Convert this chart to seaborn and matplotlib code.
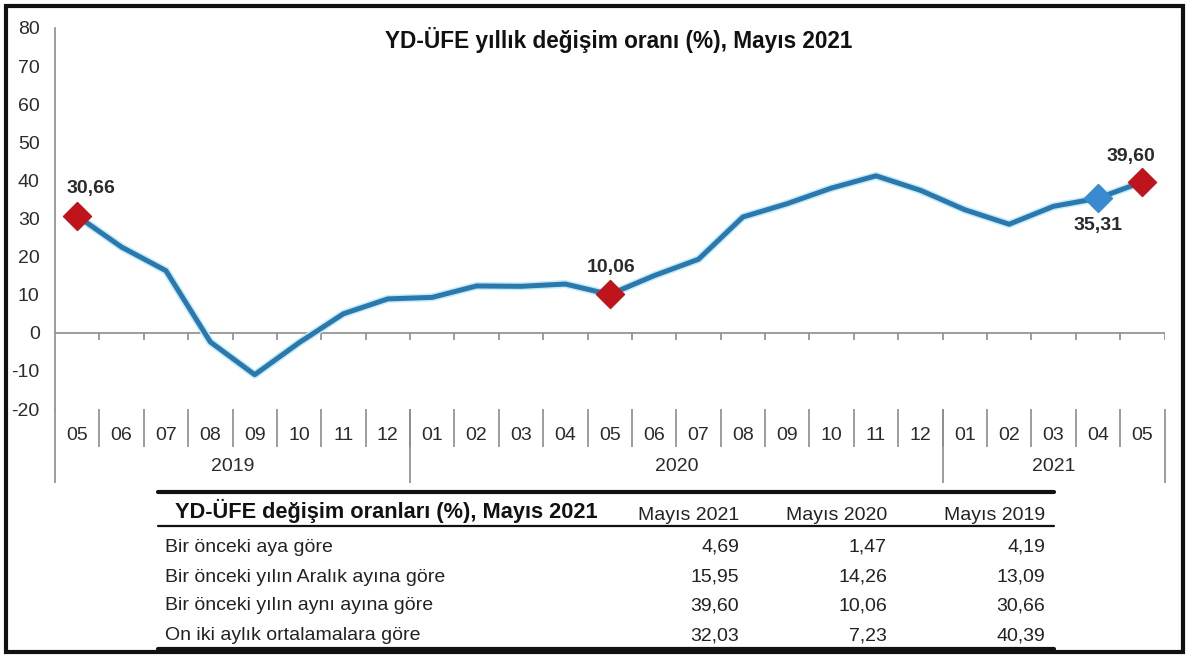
import pandas as pd
import seaborn as sns
import matplotlib.pyplot as plt
import matplotlib.patheffects as pe
from matplotlib.lines import Line2D
from matplotlib.patches import Rectangle

# chart data: YD-UFE annual change, May 2019 - May 2021
months = ["05", "06", "07", "08", "09", "10", "11", "12",
          "01", "02", "03", "04", "05", "06", "07", "08", "09", "10", "11", "12",
          "01", "02", "03", "04", "05"]
years = ["2019"] * 8 + ["2020"] * 12 + ["2021"] * 5
values = [30.66, 22.5, 16.3, -2.4, -11.0, -2.6, 5.0, 8.9,
          9.3, 12.3, 12.2, 12.8, 10.06, 15.0, 19.3, 30.4, 33.9, 38.0, 41.2, 37.4,
          32.3, 28.5, 33.2, 35.31, 39.60]
red_points = [0, 12, 24]
blue_points = [23]

# table data
table_title = "YD-ÜFE değişim oranları (%), Mayıs 2021"
table_cols = ["Mayıs 2021", "Mayıs 2020", "Mayıs 2019"]
table_rows = ["Bir önceki aya göre",
              "Bir önceki yılın Aralık ayına göre",
              "Bir önceki yılın aynı ayına göre",
              "On iki aylık ortalamalara göre"]
col_2021 = ["4,69", "15,95", "39,60", "32,03"]
col_2020 = ["1,47", "14,26", "10,06", "7,23"]
col_2019 = ["4,19", "13,09", "30,66", "40,39"]

df = pd.DataFrame({"idx": range(len(values)), "value": values,
                   "month": months, "year": years})

sns.set_style("white")
plt.rcParams['font.family'] = ['Liberation Sans', 'DejaVu Sans']
plt.rcParams['axes.unicode_minus'] = False

W, H = 1200, 668
fig = plt.figure(figsize=(12, 6.68), dpi=100)


def fx(px):
    return px / W


def fy(py):
    return 1 - py / H


ax = fig.add_axes([fx(55), fy(409), fx(1164.5) - fx(55), fy(28) - fy(409)])
grey = "#8c8c8c"
txt = "#2b2b2b"
line_col = "#2b78ad"

sns.lineplot(data=df, x="idx", y="value", ax=ax, color=line_col, linewidth=3.6,
             path_effects=[pe.Stroke(linewidth=5.8, foreground="#c4ebfa"), pe.Normal()])
sns.scatterplot(data=df.iloc[red_points], x="idx", y="value", ax=ax, marker="D",
                s=200, color="#c0141c", edgecolor="#c0141c", zorder=5)
sns.scatterplot(data=df.iloc[blue_points], x="idx", y="value", ax=ax, marker="D",
                s=200, color="#3a8ad0", edgecolor="#3a8ad0", zorder=5)

ax.set_xlim(-0.5, len(values) - 0.5)
ax.set_ylim(-20, 80)
ax.set_yticks(range(-20, 81, 10))
ax.set_xticks(df["idx"])
ax.set_xticklabels(df["month"])
ax.set_xlabel("")
ax.set_ylabel("")
ax.tick_params(axis="y", length=5, color=grey, width=1, pad=6, labelsize=14, labelcolor=txt)
ax.tick_params(axis="x", length=0, pad=13, labelsize=14, labelcolor=txt)
for s in ["top", "right", "bottom"]:
    ax.spines[s].set_visible(False)
ax.spines["left"].set_color(grey)
ax.spines["left"].set_linewidth(1.2)

# zero line with boundary ticks
ax.axhline(0, color=grey, linewidth=1.2, zorder=1)
bounds = [i + 0.5 for i in range(len(values))]
ax.vlines(bounds, -1.9, 0, color=grey, linewidth=1.2, zorder=1)

# separators below the axis (month and year groups)
xt = ax.get_xaxis_transform()
ax.vlines([i + 0.5 for i in range(len(values) - 1)], -0.10, 0, transform=xt,
          color=grey, linewidth=1.2, clip_on=False)
year_names = ["2019", "2020", "2021"]
year_edges = [-0.5]
for i in range(1, len(years)):
    if years[i] != years[i - 1]:
        year_edges.append(i - 0.5)
year_edges.append(len(years) - 0.5)
ax.vlines(year_edges, -0.195, 0, transform=xt, color=grey, linewidth=1.2, clip_on=False)
for k, yname in enumerate(year_names):
    ax.text((year_edges[k] + year_edges[k + 1]) / 2, -0.152, yname, transform=xt,
            ha="center", va="center", fontsize=14, color=txt)

# value labels
ann = {0: (10, 19.5), 12: (1, 19.5), 24: (-8, 18), 23: (0, -19.5)}
for i, off in ann.items():
    ax.annotate(f"{values[i]:.2f}".replace(".", ","), (i, values[i]), xytext=off,
                textcoords="offset points", ha="center", va="center",
                fontsize=14, fontweight="bold", color=txt)

# chart title
fig.text(fx(619), fy(40), "YD-ÜFE yıllık değişim oranı (%), Mayıs 2021",
         ha="center", va="center", fontsize=16.3, fontweight="bold", color="#111111")

# table
fig.add_artist(Line2D([fx(158), fx(1054)], [fy(492), fy(492)], color="#111111", linewidth=3))
fig.add_artist(Line2D([fx(158), fx(1054)], [fy(526), fy(526)], color="#111111", linewidth=1.6))
fig.add_artist(Line2D([fx(158), fx(1054)], [fy(649), fy(649)], color="#111111", linewidth=3))
fig.text(fx(175), fy(511), table_title, ha="left", va="center", fontsize=15.7,
         fontweight="bold", color="#111111")
col_right = [739, 887, 1045]
for c, name in enumerate(table_cols):
    fig.text(fx(col_right[c]), fy(515), name, ha="right", va="center", fontsize=14,
             color="#222222")
row_y = [547, 577, 606, 636]
for r, name in enumerate(table_rows):
    fig.text(fx(165), fy(row_y[r]), name, ha="left", va="center", fontsize=14, color="#222222")
    for c, col in enumerate([col_2021, col_2020, col_2019]):
        fig.text(fx(col_right[c]), fy(row_y[r]), col[r], ha="right", va="center",
                 fontsize=14, color="#222222")

# outer frame
fig.add_artist(Rectangle((fx(6), fy(652)), fx(1183) - fx(6), fy(6) - fy(652),
                         transform=fig.transFigure, fill=False, edgecolor="#111111",
                         linewidth=3))

fig.savefig("out.png", dpi=100)
